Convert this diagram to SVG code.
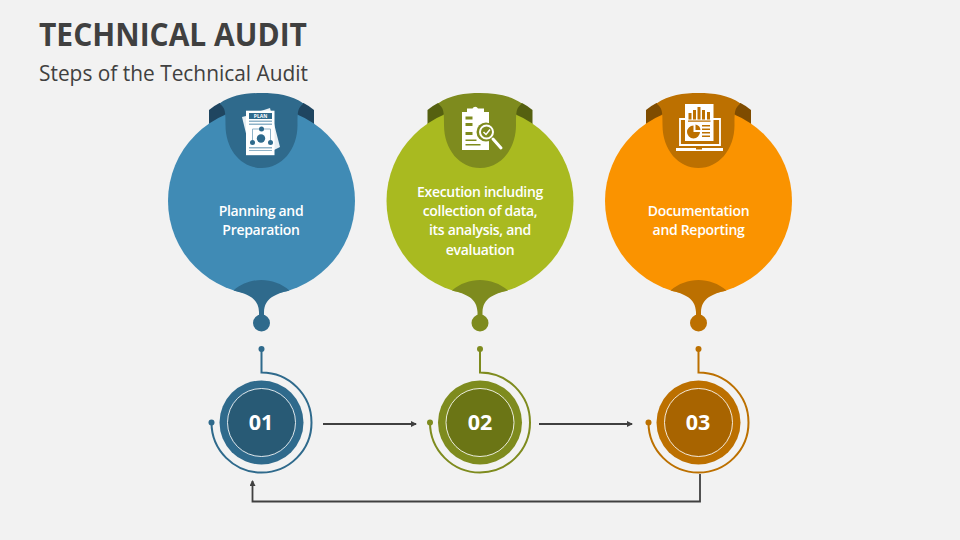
<svg xmlns="http://www.w3.org/2000/svg" width="960" height="540" viewBox="0 0 960 540">
<style>
text{font-family:"Open Sans","Liberation Sans",sans-serif}
.title{font-size:31.5px;font-weight:700;fill:#404040}
.sub{font-size:21px;fill:#404040}
.lab{font-size:14px;font-weight:600;fill:#fff;text-anchor:middle;letter-spacing:-.3px}
.num{font-size:21.5px;font-weight:700;fill:#fff;text-anchor:middle}
.blue{--main:#408BB5;--mid:#2F6A8C;--dark:#1F4560;--in:#285A75}
.green{--main:#A9BA20;--mid:#7E8B1E;--dark:#556010;--in:#6B7515}
.orange{--main:#FA9300;--mid:#BC7000;--dark:#7F4C00;--in:#A86400}
.main{fill:var(--main)}.mid{fill:var(--mid)}.dark{fill:var(--dark)}.in{fill:var(--in)}
.arc{fill:none;stroke:var(--mid);stroke-width:2}
.ring{stroke:#fff;stroke-width:1;stroke-opacity:.85;fill:var(--in)}
.w{fill:#fff}.t{fill:var(--mid)}
.conn{fill:none;stroke:#404040;stroke-width:1.8}
</style>
<defs>
<marker id="ah" markerWidth="6" markerHeight="6" refX="5" refY="3" orient="auto" markerUnits="userSpaceOnUse"><path d="M0 0L6 3L0 6Z" fill="#404040"/></marker>
<g id="bulb">
<path class="dark" d="M-52.500 110Q-48 106-42 103L42 103Q48 106 52.500 110V135H-52.500Z"/>
<circle class="main" cx="0" cy="201" r="93.500"/>
<path class="mid" d="M-36 125C-36 112-36 108-42 103.500C-30 95-15 93 0 93C15 93 30 95 42 103.500C36 108 36 112 36 125C36 150 20 168 0 168C-20 168-36 150-36 125Z"/>
<path class="mid" d="M-28 290.500C-20 283.500-10 280 0 280C10 280 20 283.500 28 290.500C14 294 3 298 2.500 312V318H-2.500V312C-3 298-14 294-28 290.500Z"/>
<circle class="mid" cx="0" cy="323" r="8.500"/>
</g>
<g id="badge">
<circle class="mid" cx="0" cy="349" r="3"/>
<path class="arc" d="M0 349V372.500A50 50 0 1 1-50 422.500"/>
<circle class="mid" cx="-50" cy="422.500" r="3"/>
<circle class="mid" cx="0" cy="422.500" r="42"/>
<circle class="ring" cx="0" cy="422.500" r="34"/>
</g>
</defs>
<rect width="960" height="540" fill="#F2F2F2"/>
<text class="title" x="39" y="46" textLength="268" lengthAdjust="spacingAndGlyphs">TECHNICAL AUDIT</text>
<text class="sub" x="39" y="80.500" textLength="269" lengthAdjust="spacingAndGlyphs">Steps of the Technical Audit</text>
<g id="connectors">
<path class="conn" marker-end="url(#ah)" d="M323 424H416"/>
<path class="conn" marker-end="url(#ah)" d="M539 424H632"/>
<path class="conn" marker-end="url(#ah)" d="M700 474V501.500H252.500V481"/>
</g>
<g id="node-planning" class="blue">
<use href="#bulb" transform="translate(261.500 0)"/>
<g id="icon-plan">
<path fill="#E6EEF3" d="M242 117L246 116L270 108L280 147L274 150L251 154Z"/>
<rect class="w" x="246" y="110.700" width="28.500" height="44.500"/>
<rect class="t" x="249" y="113" width="23" height="6"/>
<text x="260.500" y="118" font-size="5" font-weight="700" fill="#fff" text-anchor="middle">PLAN</text>
<path fill="#8FB3C8" d="M249 120.500h23v1.500h-23zM249 123.500h23v1.500h-23zM249 147h23v1.500h-23zM249 150h23v1h-23z"/>
<path fill="none" stroke="#8FB3C8" stroke-width="1" d="M252.500 140V129H270.500V140"/>
<circle class="t" cx="261.500" cy="129" r="2.500"/><circle class="t" cx="261" cy="138.500" r="4.200"/>
<circle class="t" cx="252.500" cy="142.500" r="2.500"/><circle class="t" cx="270.500" cy="142.500" r="2.500"/>
</g>
<text class="lab"><tspan x="261" y="216">Planning and</tspan><tspan x="261" y="235">Preparation</tspan></text>
<use href="#badge" transform="translate(261.500 0)"/>
<text class="num" x="261" y="430">01</text>
</g>
<g id="node-execution" class="green">
<use href="#bulb" transform="translate(480 0)"/>
<g id="icon-audit">
<rect class="w" x="462" y="112" width="27" height="38"/>
<path class="w" d="M467 112V108.500H472.500A3 3 0 0 1 478 108.500H484V112Z"/>
<path class="t" d="M465.500 116.500h7v3h-7zM465.500 123h7v3h-7zM465.500 132h7v3h-7zM465.500 139.500h11v1.500h-11zM465.500 144h15v1.500h-15z"/>
<circle class="t" cx="486" cy="132" r="9.500"/>
<circle class="t" cx="486.500" cy="132" r="6.500" stroke="#fff" stroke-width="2"/>
<path fill="none" stroke="#fff" stroke-width="1.500" d="M483.500 132L486 134.500L490 129.500"/>
<path fill="none" stroke="#fff" stroke-width="3" stroke-linecap="round" d="M493 139L501 148"/>
</g>
<text class="lab"><tspan x="480" y="196.500">Execution including</tspan><tspan x="480" y="216">collection of data,</tspan><tspan x="480" y="235">its analysis, and</tspan><tspan x="480" y="254.500">evaluation</tspan></text>
<use href="#badge" transform="translate(480 0)"/>
<text class="num" x="480" y="430">02</text>
</g>
<g id="node-reporting" class="orange">
<use href="#bulb" transform="translate(698.500 0)"/>
<g id="icon-report">
<path fill="none" stroke="#fff" stroke-width="1.800" d="M680 145V119H720V145Z"/>
<path class="w" d="M676 148H696V149.500H702V148H723V151H676Z"/>
<rect class="w" x="685" y="104" width="28.500" height="37"/>
<path class="t" d="M688.500 113h3v6.500h-3zM693 110h3v9.500h-3zM697.500 107h3v12.500h-3zM702 110h3v9.500h-3zM707 112h3v7.500h-3zM688 120.500h22.500v1.200H688zM702 125h8v1.500h-8zM702 128.500h8v1.500h-8zM702 132h8v1.500h-8zM702 135.500h8v1.500h-8z"/>
<path class="t" d="M693.500 125.500V132H700A6.500 6.500 0 1 1 693.500 125.500Z"/>
<path class="t" d="M695.500 124.500A6 6 0 0 1 700.500 130H695.500Z"/>
</g>
<text class="lab"><tspan x="698.500" y="216">Documentation</tspan><tspan x="698.500" y="235">and Reporting</tspan></text>
<use href="#badge" transform="translate(698.500 0)"/>
<text class="num" x="698" y="430">03</text>
</g>
</svg>
